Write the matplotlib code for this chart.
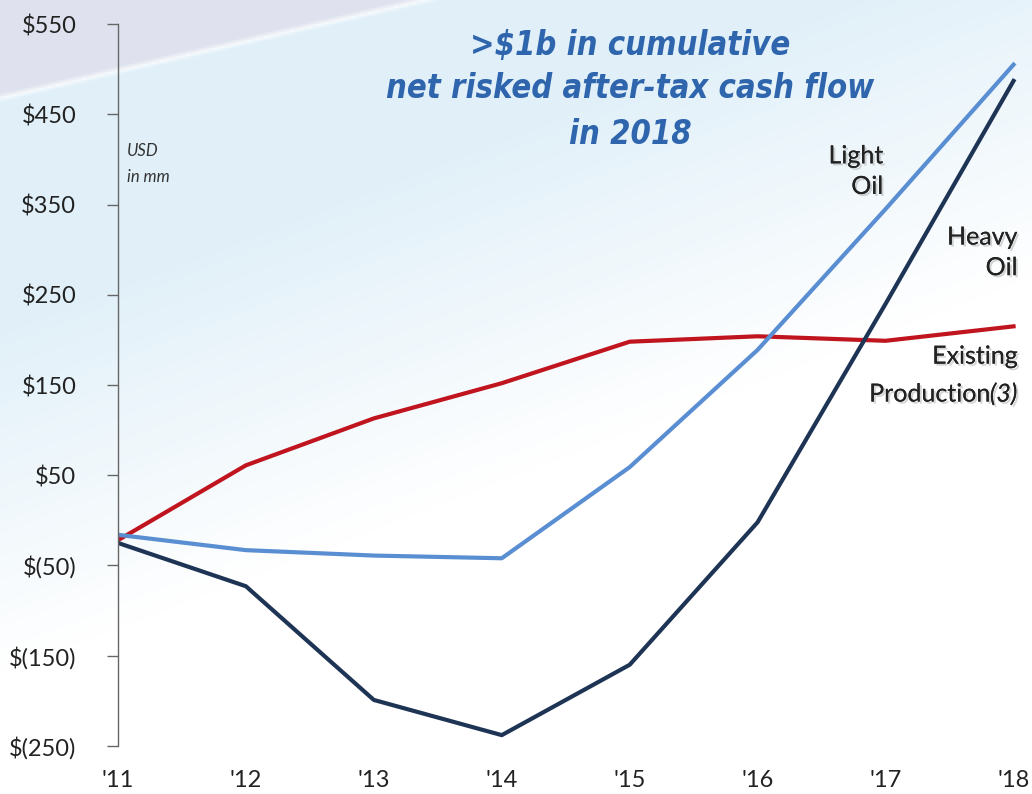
import numpy as np
import matplotlib
matplotlib.use("Agg")
import matplotlib.pyplot as plt
import matplotlib.patheffects as pe

years = [2011, 2012, 2013, 2014, 2015, 2016, 2017, 2018]
xlabels = ["'11", "'12", "'13", "'14", "'15", "'16", "'17", "'18"]
existing = [-22, 61, 113, 152, 198, 204, 199, 215]
light_oil = [-16, -33, -39, -42, 59, 189, 345, 505]
heavy_oil = [-25, -73, -199, -238, -160, -2, 240, 487]
yticks = [550, 450, 350, 250, 150, 50, -50, -150, -250]
ylabels = ["$550", "$450", "$350", "$250", "$150", "$50", "$(50)", "$(150)", "$(250)"]
title_lines = [">$1b in cumulative", "net risked after-tax cash flow", "in 2018"]

fig = plt.figure(figsize=(10.32, 7.94), dpi=100)

# background gradient
bg = fig.add_axes([0, 0, 1, 1])
H, W = 397, 516
yy, xx = np.mgrid[0:H, 0:W]
yn = yy / H
xn = xx / W
arc1 = 0.60 - 0.50 * xn
t = np.clip((arc1 - yn) / 0.45 + 0.55, 0, 1)
blue = np.array([0.88, 0.94, 0.975])
white = np.array([1, 1, 1])
img = white * (1 - t[..., None]) + blue * t[..., None]
sw = 0.122 - 0.30 * xn
gray = np.array([0.875, 0.89, 0.935])
mask = yn < sw
img[mask] = gray
d = np.abs(yn - sw)
w = np.clip(1 - d / 0.006, 0, 1)
img = img * (1 - 0.7 * w[..., None]) + white * 0.7 * w[..., None]
bg.imshow(img, extent=[0, 1, 0, 1], aspect="auto", origin="upper")
bg.axis("off")

ax = fig.add_axes([0.1143, 0.0605, 0.874, 0.9092])
ax.patch.set_alpha(0)

ax.plot(years, existing, color="#c0141e", lw=3.0)
ax.plot(years, light_oil, color="#5a8ed2", lw=3.0)
ax.plot(years, heavy_oil, color="#1e3455", lw=3.0)

ax.set_xlim(2011, 2018.05)
ax.set_ylim(-250, 550)
ax.set_yticks(yticks)
ax.set_yticklabels(ylabels)
ax.set_xticks(years)
ax.set_xticklabels(xlabels)

for s in ["top", "right", "bottom"]:
    ax.spines[s].set_visible(False)
ax.spines["left"].set_color("#666666")
ax.spines["left"].set_linewidth(1.0)
ax.tick_params(axis="y", length=8, width=1.0, color="#666666", pad=22,
               labelsize=17, labelcolor="#222222")
ax.tick_params(axis="x", length=0, pad=17, labelsize=17, labelcolor="#222222")
for lab in ax.get_yticklabels() + ax.get_xticklabels():
    lab.set_family("Lato")

# Title (three lines as separate texts)
for line, ypx in zip(title_lines, [45, 89, 134]):
    fig.text(0.611, 1 - ypx / 794, line, ha="center", va="center", fontsize=23.5,
             fontweight="bold", style="italic", fontstretch="condensed",
             color="#2e65ad", family="DejaVu Sans")

# units
ax.text(2011.07, 395, "USD\nin mm", ha="left", va="center", fontsize=12,
        style="italic", color="#333333", family="Lato", linespacing=1.8)

shadow = [pe.withSimplePatchShadow(offset=(1.5, -1.5), shadow_rgbFace="#888888", alpha=0.35),
          pe.Normal()]
fs = 18
ax.text(2016.98, 387, "Light\nOil", ha="right", va="center", fontsize=fs,
        color="#222222", family="Lato", linespacing=1.4, path_effects=shadow)
ax.text(2018.03, 297, "Heavy\nOil", ha="right", va="center", fontsize=fs,
        color="#222222", family="Lato", linespacing=1.4, path_effects=shadow)
ax.text(2018.03, 182, "Existing", ha="right", va="center", fontsize=fs,
        color="#222222", family="Lato", path_effects=shadow)
t3 = ax.text(2018.03, 140, "(3)", ha="right", va="center", fontsize=fs,
             style="italic", color="#222222", family="Lato", path_effects=shadow)
ax.annotate("Production", xy=(0, 0.5), xycoords=t3, ha="right", va="center",
            fontsize=fs, color="#222222", family="Lato", path_effects=shadow)

fig.savefig("out.png", dpi=100)
